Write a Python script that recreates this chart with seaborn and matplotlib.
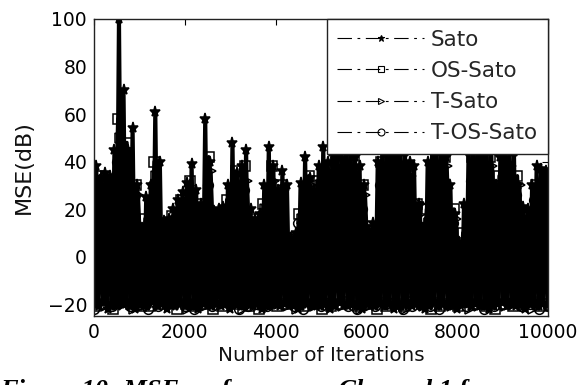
import numpy as np
import pandas as pd
import matplotlib
matplotlib.use("Agg")
import matplotlib.pyplot as plt
from matplotlib.lines import Line2D
import seaborn as sns

# ---- data: MSE (dB) oscillation, peaks and floors per series ----
sato_peaks = [38, 33, 35, 34, 45, 100, 70, 45, 54, 30,
              12, 25, 30, 61, 40, 15, 16, 20, 24, 27,
              31, 39, 28, 22, 58, 40, 19, 20, 21, 30,
              48, 35, 38, 45, 20, 16, 18, 30, 46, 38,
              28, 36, 30, 8, 10, 31, 42, 33, 28, 38,
              46, 40, 44, 42, 46, 48, 44, 42, 38, 30,
              11, 14, 40, 46, 44, 48, 42, 46, 44, 40,
              38, 22, 12, 40, 46, 44, 48, 42, 30, 18,
              6, 22, 44, 48, 46, 50, 44, 46, 30, 42,
              48, 46, 44, 30, 21, 20, 30, 38, 37, 36]
sato_floor = [-20, -21, -19, -22, -20, -21, -20, -19, -21, -22,
              -20, -21, -20, -19, -21, -20, -22, -21, -20, -19,
              -21, -20, -21, -22, -20, -19, -21, -20, -21, -20,
              -22, -20, -19, -21, -20, -21, -20, -22, -21, -20,
              -19, -21, -20, -20, -21, -22, -20, -19, -21, -20,
              -21, -20, -22, -21, -19, -20, -21, -20, -21, -22,
              -20, -19, -21, -20, -21, -20, -22, -21, -20, -19,
              -21, -20, -21, -22, -20, -19, -21, -20, -21, -20,
              -22, -20, -19, -21, -20, -21, -20, -22, -21, -20,
              -19, -21, -20, -21, -20, -22, -20, -19, -21, -20,
              -20]

os_sato_peaks = [34, 32, 58, 48, 30, 16, 40, 14, 17, 24,
                 32, 22, 42, 18, 24, 36, 38, 16, 22, 38,
                 30, 8, 18, 34, 32, 38, 40, 42, 40, 30,
                 9, 40, 42, 42, 38, 22, 20, 42, 42, 20,
                 10, 42, 44, 42, 34, 42, 34, 17, 30, 35]
os_sato_floor = [-21, -20, -22, -19, -20, -21, -21, -20, -19, -22,
                 -20, -21, -20, -22, -21, -19, -20, -21, -22, -20,
                 -21, -20, -19, -21, -20, -22, -21, -20, -19, -21,
                 -20, -22, -21, -20, -21, -19, -20, -22, -21, -20,
                 -21, -19, -20, -21, -22, -20, -21, -20, -19, -21,
                 -20]

t_sato_peaks = [30, 30, 50, 42, 26, 12, 34, 13, 15, 20,
                28, 20, 36, 16, 20, 30, 32, 14, 20, 32,
                28, 6, 16, 30, 30, 34, 36, 38, 36, 26,
                6, 36, 38, 38, 34, 22, 14, 38, 38, 16,
                4, 38, 40, 38, 30, 38, 30, 18, 28, 34]
t_sato_floor = [-19, -21, -20, -20, -22, -21, -19, -20, -21, -20,
                -22, -20, -21, -19, -20, -21, -22, -20, -19, -21,
                -20, -21, -22, -20, -21, -19, -20, -21, -20, -22,
                -21, -20, -19, -21, -22, -20, -21, -20, -19, -21,
                -20, -22, -21, -20, -19, -21, -20, -21, -22, -20,
                -21]

t_os_sato_peaks = [28, 26, 40, 36, 26, 10, 30, 14, 12, 18,
                   24, 18, 30, 14, 18, 26, 28, 12, 18, 28,
                   24, 8, 14, 26, 26, 30, 32, 32, 30, 20,
                   6, 30, 32, 32, 28, 20, 16, 32, 32, 14,
                   4, 32, 34, 32, 26, 32, 26, 12, 24, 28]
t_os_sato_floor = [-22, -20, -21, -19, -21, -20, -22, -21, -20, -19,
                   -21, -22, -20, -21, -19, -20, -22, -21, -20, -21,
                   -19, -20, -21, -22, -20, -21, -19, -20, -21, -22,
                   -20, -21, -20, -19, -22, -21, -20, -21, -22, -20,
                   -19, -21, -20, -22, -21, -20, -19, -21, -20, -22,
                   -21]

series_names = ["Sato", "OS-Sato", "T-Sato", "T-OS-Sato"]
x_ticks = [0, 2000, 4000, 6000, 8000, 10000]
y_ticks = [-20, 0, 20, 40, 60, 80, 100]


def interleave(floor, peaks):
    """Alternate floor / peak samples: floor0, peak0, floor1, peak1, ..."""
    out = []
    for i, f in enumerate(floor):
        out.append(f)
        if i < len(peaks):
            out.append(peaks[i])
    return np.array(out, dtype=float)


# name, floor, peaks, first iteration, sample step, marker, face, line width
series = [
    ("Sato", sato_floor, sato_peaks, 0, 50, "*", "black", 3.0),
    ("OS-Sato", os_sato_floor, os_sato_peaks, 25, 100, "s", "none", 2.6),
    ("T-Sato", t_sato_floor, t_sato_peaks, 75, 100, ">", "none", 2.6),
    ("T-OS-Sato", t_os_sato_floor, t_os_sato_peaks, 0, 100, "o", "none", 2.6),
]

sns.set_theme(style="white")
plt.rcParams["font.family"] = ["DejaVu Sans"]

fig = plt.figure(figsize=(5.82, 3.85), dpi=100)
ax = fig.add_axes([94 / 582, 1 - 316 / 385, (548 - 94) / 582, (316 - 19) / 385])

# the traces are so dense that the dash-dot pattern merges into solid ink
for name, floor, peaks, start, step, mk, face, lw in series:
    y = interleave(floor, peaks)
    x = start + np.arange(len(y)) * step
    df = pd.DataFrame({"iteration": x, "mse": y})
    sns.lineplot(data=df, x="iteration", y="mse", ax=ax, color="black",
                 lw=lw, linestyle="-", marker=mk,
                 markersize=8 if mk == "*" else 7,
                 markerfacecolor=face, markeredgecolor="black",
                 markeredgewidth=1.1, estimator=None, sort=False,
                 legend=False)

ax.set_xlim(0, 10000)
ax.set_ylim(-25, 100)
ax.set_xticks(x_ticks)
ax.set_yticks(y_ticks)
ax.tick_params(direction="in", length=4, width=0.8, top=True, right=True,
               labelsize=13.5, colors="black", pad=5)
for s in ax.spines.values():
    s.set_color("#222222")
    s.set_linewidth(1.0)
    s.set_zorder(4)
ax.set_xlabel("Number of Iterations", fontsize=14.3, color="#111111", labelpad=3,
              bbox=dict(facecolor="white", edgecolor="none", pad=1.5))
ax.set_ylabel("MSE(dB)", fontsize=16, color="#111111", labelpad=10)

# legend keys: thin dash-dot line with the series marker
legend_keys = [
    Line2D([], [], color="black", lw=0.8, linestyle=(0, (13, 5, 2.5, 5)),
           marker=mk, markersize=5, markerfacecolor=face,
           markeredgecolor="black", markeredgewidth=0.8)
    for _, _, _, _, _, mk, face, _ in series
]
leg = ax.legend(legend_keys, series_names, loc="upper right", fontsize=15.5,
                frameon=True, fancybox=False, framealpha=1,
                edgecolor="#222222", borderaxespad=0, handlelength=4.0,
                handletextpad=0.35, labelspacing=0.52, borderpad=0.5)
leg.get_frame().set_linewidth(1.0)
leg.set_zorder(5)

fig.text(0.0, -0.03, "Figure 10: MSE performance, Channel 1 for",
         fontsize=19, fontweight="bold", fontstyle="italic",
         family=["Liberation Serif", "DejaVu Serif"], color="black",
         va="baseline", ha="left", zorder=-1)

fig.savefig("out.png", dpi=100)
